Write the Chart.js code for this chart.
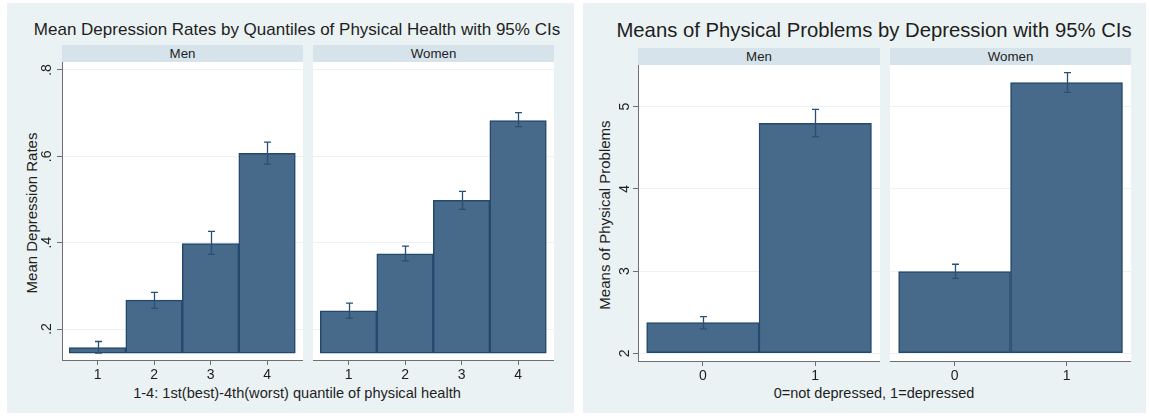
<!DOCTYPE html>
<html>
<head>
<meta charset="utf-8">
<script src="https://cdn.jsdelivr.net/npm/chart.js@4/dist/chart.umd.min.js"></script>
<style>
  html, body { margin: 0; padding: 0; width: 1149px; height: 416px; overflow: hidden; background: #ffffff;
    font-family: "Liberation Sans", Arial, sans-serif; color: #1e1e1e; }
  .panel { position: absolute; background: #eaf2f3; }
  .txt { position: absolute; white-space: nowrap; line-height: 1; }
  .center { transform: translateX(-50%); }
  .vert { transform: translate(-50%, -50%) rotate(-90deg); }
  .strip { position: absolute; background: #d7e3ea; text-align: center; font-size: 13.3px; }
  canvas { position: absolute; }
</style>
</head>
<body>
  <!-- left graph: depression rate by physical-health quartile -->
  <div class="panel" style="left:7px; top:3px; width:567px; height:410px;"></div>
  <div class="txt center" style="left:297px; top:21px; font-size:17px;">Mean Depression Rates by Quantiles of Physical Health with 95% CIs</div>
  <div class="strip" style="left:62px; top:45px; width:241px; height:17px; line-height:17px;">Men</div>
  <div class="strip" style="left:313px; top:45px; width:241px; height:17px; line-height:17px;">Women</div>
  <div class="txt vert" style="left:31px; top:213px; font-size:15px;">Mean Depression Rates</div>
  <div class="txt center" style="left:297px; top:386px; font-size:14.6px;">1-4: 1st(best)-4th(worst) quantile of physical health</div>
  <canvas id="depMen" width="283" height="330" style="left:20px; top:62px;"></canvas>
  <canvas id="depWomen" width="241" height="330" style="left:313px; top:62px;"></canvas>

  <!-- right graph: physical problems by depression status -->
  <div class="panel" style="left:583px; top:3px; width:563px; height:410px;"></div>
  <div class="txt center" style="left:874px; top:19.5px; font-size:20.3px;">Means of Physical Problems by Depression with 95% CIs</div>
  <div class="strip" style="left:638px; top:48px; width:242px; height:17px; line-height:17px;">Men</div>
  <div class="strip" style="left:890px; top:48px; width:241px; height:17px; line-height:17px;">Women</div>
  <div class="txt vert" style="left:604px; top:215px; font-size:15px;">Means of Physical Problems</div>
  <div class="txt center" style="left:874px; top:386px; font-size:14.5px;">0=not depressed, 1=depressed</div>
  <canvas id="probMen" width="290" height="327" style="left:590px; top:65px;"></canvas>
  <canvas id="probWomen" width="241" height="327" style="left:890px; top:65px;"></canvas>

<script>
// ---- values ----
const quantileCategories = [1, 2, 3, 4];
const quantileTickLabels = ['1', '2', '3', '4'];
const depressionMen      = [0.157, 0.267, 0.398, 0.607];
const depressionMenLo    = [0.144, 0.248, 0.373, 0.582];
const depressionMenHi    = [0.171, 0.285, 0.426, 0.633];
const depressionWomen    = [0.242, 0.374, 0.498, 0.683];
const depressionWomenLo  = [0.225, 0.358, 0.477, 0.669];
const depressionWomenHi  = [0.260, 0.392, 0.519, 0.701];
const depressionTicks      = [0.2, 0.4, 0.6, 0.8];
const depressionTickLabels = ['.2', '.4', '.6', '.8'];
const depressionBase = 0.144;

const depressedCategories = [0, 1];
const depressedTickLabels = ['0', '1'];
const problemsMen      = [2.372, 4.798];
const problemsMenLo    = [2.296, 4.635];
const problemsMenHi    = [2.445, 4.968];
const problemsWomen    = [2.993, 5.292];
const problemsWomenLo  = [2.912, 5.175];
const problemsWomenHi  = [3.083, 5.414];
const problemsTicks      = [2, 3, 4, 5];
const problemsTickLabels = ['2', '3', '4', '5'];
const problemsBase = 2;

// ---- look ----
const FONT = '"Liberation Sans", Arial, sans-serif';
const INK = '#1e1e1e';
const AXIS = '#6f6f6f';
const GRID = '#eaf2f3';
const BAR_FILL = '#47698a';
const BAR_EDGE = '#24496d';
const CI_COLOR = '#2b4f72';
const TICK_SIZE = 14;

// white plot region behind the bars
const plotBackground = {
  id: 'plotBackground',
  beforeDraw(chart) {
    const { ctx, chartArea: a } = chart;
    ctx.save();
    ctx.fillStyle = '#ffffff';
    ctx.fillRect(a.left, a.top, a.right - a.left, a.bottom - a.top);
    ctx.restore();
  }
};

// capped 95% confidence intervals drawn on top of the bars
const errorBars = {
  id: 'errorBars',
  afterDatasetsDraw(chart, args, o) {
    const { x, y } = chart.scales;
    const ctx = chart.ctx;
    ctx.save();
    ctx.strokeStyle = CI_COLOR;
    ctx.lineWidth = 1.3;
    chart.data.datasets[0].data.forEach((p, i) => {
      const px = Math.round(x.getPixelForValue(p.x)) + 0.5;
      const top = y.getPixelForValue(o.hi[i]);
      const bot = y.getPixelForValue(o.lo[i]);
      ctx.beginPath();
      ctx.moveTo(px, top); ctx.lineTo(px, bot);
      ctx.moveTo(px - 3.5, top); ctx.lineTo(px + 3.5, top);
      ctx.moveTo(px - 3.5, bot); ctx.lineTo(px + 3.5, bot);
      ctx.stroke();
    });
    ctx.restore();
  }
};

// vertical y-axis tick labels, read bottom to top
const yTickText = {
  id: 'yTickText',
  afterDraw(chart, args, o) {
    if (!o.labels) return;
    const y = chart.scales.y;
    const ctx = chart.ctx;
    ctx.save();
    ctx.font = TICK_SIZE + 'px ' + FONT;
    ctx.fillStyle = INK;
    ctx.textAlign = 'center';
    ctx.textBaseline = 'middle';
    y.ticks.forEach((t, i) => {
      ctx.save();
      ctx.translate(chart.chartArea.left - o.offset, y.getPixelForValue(t.value));
      ctx.rotate(-Math.PI / 2);
      ctx.fillText(o.labels[i], 0, 0);
      ctx.restore();
    });
    ctx.restore();
  }
};

function facet(id, s) {
  return new Chart(document.getElementById(id), {
    type: 'bar',
    data: {
      datasets: [{
        data: s.categories.map((c, i) => ({ x: c, y: s.values[i] })),
        base: s.base,
        backgroundColor: BAR_FILL,
        borderColor: BAR_EDGE,
        borderWidth: 1.5,
        borderSkipped: false,
        barPercentage: 1,
        categoryPercentage: 1
      }]
    },
    options: {
      responsive: false,
      animation: false,
      events: [],
      layout: { padding: 0 },
      plugins: {
        legend: { display: false },
        tooltip: { enabled: false },
        errorBars: { lo: s.lo, hi: s.hi },
        yTickText: s.showY ? { labels: s.yLabels, offset: s.yLabelOffset } : {}
      },
      scales: {
        x: {
          type: 'linear', min: s.xMin, max: s.xMax, offset: false,
          afterBuildTicks: sc => { sc.ticks = s.categories.map(v => ({ value: v })); },
          ticks: {
            callback: (v, i) => s.tickLabels[i],
            font: { family: FONT, size: TICK_SIZE }, color: INK,
            padding: 2, maxRotation: 0, minRotation: 0, autoSkip: false
          },
          grid: { offset: false, drawOnChartArea: false, drawTicks: true, tickLength: 5, tickColor: AXIS },
          border: { display: true, color: AXIS, width: 1 },
          afterFit: sc => { sc.height = s.xAxisHeight; }
        },
        y: {
          type: 'linear', min: s.yMin, max: s.yMax,
          afterBuildTicks: sc => { sc.ticks = s.yTicks.map(v => ({ value: v })); },
          ticks: { display: false },
          grid: { offset: false, color: GRID, lineWidth: 1, drawTicks: s.showY, tickLength: 5, tickColor: AXIS },
          border: { display: s.showY, color: AXIS, width: 1 },
          afterFit: sc => { sc.width = s.yAxisWidth; }
        }
      }
    },
    plugins: [plotBackground, errorBars, yTickText]
  });
}

const depressionLayout = {
  categories: quantileCategories, tickLabels: quantileTickLabels,
  base: depressionBase, yTicks: depressionTicks, yLabels: depressionTickLabels,
  xMin: 0.371, xMax: 4.636, yMin: 0.1282, yMax: 0.8185, xAxisHeight: 32
};
facet('depMen', Object.assign({}, depressionLayout, {
  values: depressionMen, lo: depressionMenLo, hi: depressionMenHi,
  showY: true, yAxisWidth: 42, yLabelOffset: 14.5
}));
facet('depWomen', Object.assign({}, depressionLayout, {
  values: depressionWomen, lo: depressionWomenLo, hi: depressionWomenHi,
  showY: false, yAxisWidth: 0
}));

const problemsLayout = {
  categories: depressedCategories, tickLabels: depressedTickLabels,
  base: problemsBase, yTicks: problemsTicks, yLabels: problemsTickLabels,
  xMin: -0.577, xMax: 1.576, yMin: 1.906, yMax: 5.507, xAxisHeight: 31
};
facet('probMen', Object.assign({}, problemsLayout, {
  values: problemsMen, lo: problemsMenLo, hi: problemsMenHi,
  showY: true, yAxisWidth: 48, yLabelOffset: 13
}));
facet('probWomen', Object.assign({}, problemsLayout, {
  values: problemsWomen, lo: problemsWomenLo, hi: problemsWomenHi,
  showY: false, yAxisWidth: 0
}));
</script>
</body>
</html>
